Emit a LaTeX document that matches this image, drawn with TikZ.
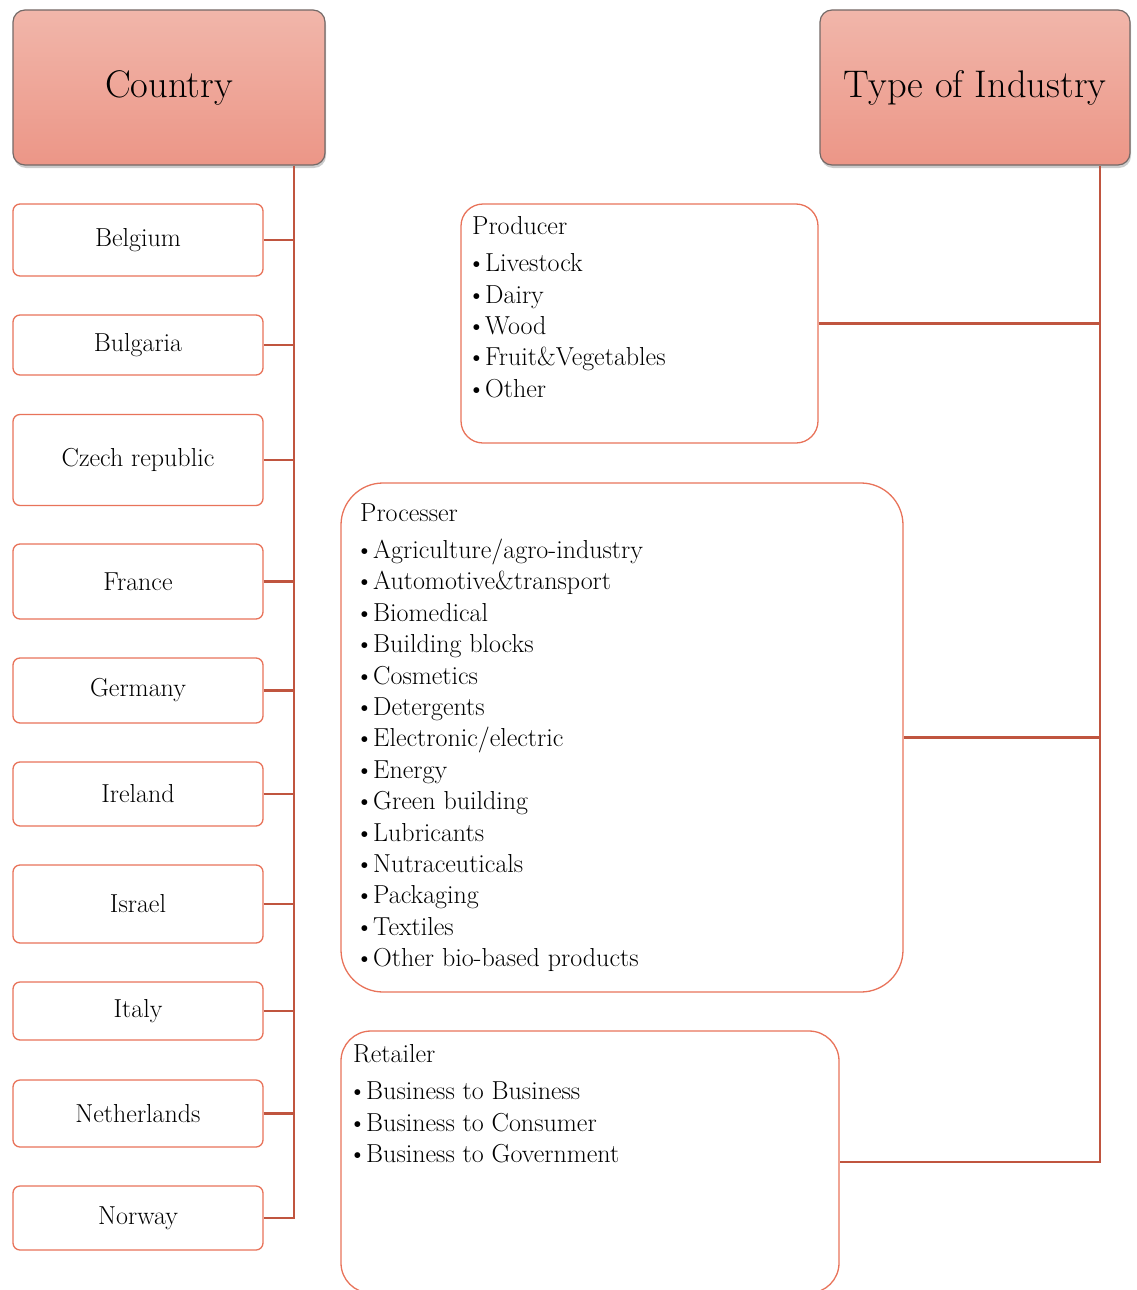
\documentclass[tikz,border=0pt]{standalone}
\usetikzlibrary{shadows}
\definecolor{boxline}{RGB}{232,115,90}
\definecolor{connc}{RGB}{192,85,63}
\definecolor{headtop}{RGB}{241,182,170}
\definecolor{headbot}{RGB}{236,150,135}
\definecolor{headline}{RGB}{115,105,103}
\definecolor{txt}{RGB}{0,0,0}
\newcommand\bul{\makebox[13pt][l]{\kern-5pt\textbullet}}
\begin{document}
\begin{tikzpicture}[x=1pt,y=-1pt,
  head/.style={draw=headline, line width=1.2pt, rounded corners=12pt,
    top color=headtop, bottom color=headbot,
    drop shadow={opacity=0.4, shadow xshift=1pt, shadow yshift=-3pt},
    minimum height=155pt, text=txt, font=\fontsize{38.5}{44}\selectfont},
  cbox/.style={draw=boxline, line width=1.3pt, rounded corners=7pt, fill=white,
    minimum width=250pt, text=txt, font=\fontsize{26}{30}\selectfont},
  lbox/.style={draw=boxline, line width=1.3pt},
  ltext/.style={anchor=north west, align=left, inner sep=0pt, text=txt,
    font=\fontsize{26}{31.4}\selectfont},
  connline/.style={draw=connc, line width=2.8pt}]
\useasboundingbox (0,0) rectangle (1137,1290);
\clip (0,0) rectangle (1137,1290);

% headers
\node[head, minimum width=312pt] (country) at (169,87.5) {Country};
\node[head, minimum width=310pt] (industry) at (975,87.5) {Type of Industry};

% country boxes
\node[cbox, minimum height=72pt] (belgium) at (138,240) {Belgium};
\node[cbox, minimum height=60pt] (bulgaria) at (138,345) {Bulgaria};
\node[cbox, minimum height=91pt] (czech) at (138,460) {Czech republic};
\node[cbox, minimum height=75pt] (france) at (138,581.5) {France};
\node[cbox, minimum height=65pt] (germany) at (138,690.5) {Germany};
\node[cbox, minimum height=64pt] (ireland) at (138,794) {Ireland};
\node[cbox, minimum height=78pt] (israel) at (138,904) {Israel};
\node[cbox, minimum height=58pt] (italy) at (138,1011) {Italy};
\node[cbox, minimum height=67pt] (netherlands) at (138,1113.5) {Netherlands};
\node[cbox, minimum height=64pt] (norway) at (138,1218) {Norway};

% industry boxes
\node[lbox, rounded corners=22pt, minimum width=357pt, minimum height=239pt] (prod) at (639.5,323.5) {};
\node[lbox, rounded corners=42pt, minimum width=562pt, minimum height=509pt] (proc) at (622,737.5) {};
\node[lbox, rounded corners=30pt, minimum width=498pt, minimum height=262pt] (retail) at (590,1162) {};

\node[ltext] (prodtxt) at (472,216.5) {Producer\\[5.6pt]
\bul Livestock\\
\bul Dairy\\
\bul Wood\\
\bul Fruit\&Vegetables\\
\bul Other};

\node[ltext] (proctxt) at (360,503.5) {Processer\\[5.6pt]
\bul Agriculture/agro-industry\\
\bul Automotive\&transport\\
\bul Biomedical\\
\bul Building blocks\\
\bul Cosmetics\\
\bul Detergents\\
\bul Electronic/electric\\
\bul Energy\\
\bul Green building\\
\bul Lubricants\\
\bul Nutraceuticals\\
\bul Packaging\\
\bul Textiles\\
\bul Other bio-based products};

\node[ltext] (rettxt) at (353,1044.5) {Retailer\\[5.6pt]
\bul Business to Business\\
\bul Business to Consumer\\
\bul Business to Government};

% connectors left
\coordinate (lt) at (294,0);
\draw[connline] (lt |- country.south) -- (lt |- norway.east) -- (norway.east);
\foreach \n in {belgium,bulgaria,czech,france,germany,ireland,israel,italy,netherlands}
  \draw[connline] (\n.east) -- (lt |- \n.east);

% connectors right
\coordinate (rt) at (1100,0);
\draw[connline] (rt |- industry.south) -- (rt |- retail.east) -- (retail.east);
\draw[connline] (prod.east) -- (rt |- prod.east);
\draw[connline] (proc.east) -- (rt |- proc.east);
\end{tikzpicture}
\end{document}
